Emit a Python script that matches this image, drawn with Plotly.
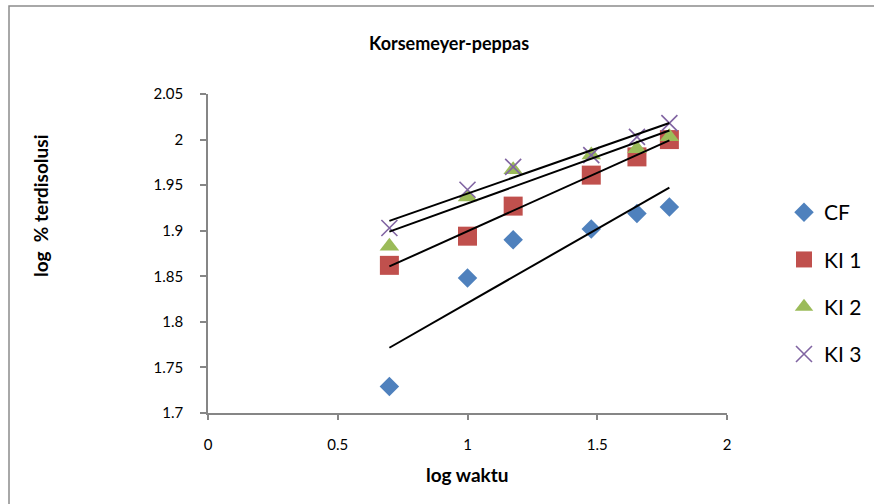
import numpy as np
import plotly.graph_objects as go

# ---- data ----
log_waktu = [0.699, 1.0, 1.176, 1.477, 1.653, 1.778]
cf = [1.729, 1.848, 1.890, 1.902, 1.919, 1.926]
ki1 = [1.862, 1.894, 1.927, 1.961, 1.981, 2.000]
ki2 = [1.883, 1.937, 1.967, 1.983, 1.990, 2.003]
ki3 = [1.903, 1.945, 1.970, 1.983, 2.003, 2.018]
series_names = ["CF", "KI 1", "KI 2", "KI 3"]
x_ticks = [0, 0.5, 1, 1.5, 2]
y_ticks = [1.7, 1.75, 1.8, 1.85, 1.9, 1.95, 2, 2.05]

FONT = "Lato, Open Sans, sans-serif"

styles = [
    dict(symbol="diamond", size=15, color="#4F81BD", line=dict(width=0)),
    dict(symbol="square", size=19, color="#C0504D", line=dict(width=0)),
    dict(symbol="triangle-up", size=17, color="#9BBB59", line=dict(width=0)),
    dict(symbol="x-thin", size=16, color="#8064A2", line=dict(width=1.6, color="#8064A2")),
]

fig = go.Figure()
all_series = [cf, ki1, ki2, ki3]
for name, ys, st in zip(series_names, all_series, styles):
    fig.add_trace(go.Scatter(
        x=log_waktu, y=ys, mode="markers", name=name,
        marker=st, legendgroup=name,
    ))

# linear trendlines (least-squares fit of each series)
for name, ys in zip(series_names, all_series):
    m, b = np.polyfit(log_waktu, ys, 1)
    xs = [min(log_waktu), max(log_waktu)]
    fig.add_trace(go.Scatter(
        x=xs, y=[m * v + b for v in xs], mode="lines",
        line=dict(color="black", width=2), showlegend=False,
        hoverinfo="skip",
    ))

W, H = 874, 504
L, R, T, B = 208, 147, 94, 91
PW, PH = W - L - R, H - T - B

def px(xp):
    return (xp - L) / PW

def py(yp):
    return (H - B - yp) / PH

fig.update_layout(
    width=W, height=H,
    margin=dict(l=L, r=R, t=T, b=B, pad=0, autoexpand=False),
    paper_bgcolor="white", plot_bgcolor="white",
    font=dict(family=FONT, color="black", size=15),
    showlegend=True,
    legend=dict(
        xref="container", yref="container",
        x=784 / W, y=1 - 192 / H, xanchor="left", yanchor="top",
        font=dict(size=21, family=FONT), traceorder="grouped",
        tracegroupgap=17, itemwidth=30, bgcolor="rgba(0,0,0,0)",
    ),
    xaxis=dict(
        range=[0, 2], tickvals=x_ticks, ticktext=[str(v) for v in x_ticks],
        showgrid=False, zeroline=False, showline=True, linecolor="#868686",
        linewidth=1.5, ticks="outside", ticklen=5, tickcolor="#868686",
        tickwidth=1.5, tickfont=dict(size=15), ticklabelstandoff=12,
    ),
    yaxis=dict(
        range=[1.7, 2.05], tickvals=y_ticks,
        ticktext=["1.7", "1.75", "1.8", "1.85", "1.9", "1.95", "2", "2.05"],
        showgrid=False, zeroline=False, showline=True, linecolor="#868686",
        linewidth=1.5, ticks="outside", ticklen=6, tickcolor="#868686",
        tickwidth=1.5, tickfont=dict(size=15), ticklabelstandoff=14,
    ),
    shapes=[dict(
        type="rect", xref="paper", yref="paper",
        x0=px(9), x1=px(890), y0=py(6), y1=py(520),
        line=dict(color="#8c8c8c", width=1.5), fillcolor="rgba(0,0,0,0)",
        layer="below",
    )],
    annotations=[
        dict(text="<b>Korsemeyer-peppas</b>", xref="paper", yref="paper",
             x=px(449), y=py(43), showarrow=False, font=dict(size=18),
             xanchor="center", yanchor="middle"),
        dict(text="<b>log waktu</b>", xref="paper", yref="paper",
             x=px(467), y=py(475), showarrow=False, font=dict(size=19),
             xanchor="center", yanchor="middle"),
        dict(text="<b>log  % terdisolusi</b>", xref="paper", yref="paper",
             x=px(40), y=py(206), showarrow=False, font=dict(size=19),
             textangle=-90, xanchor="center", yanchor="middle"),
    ],
)

fig.write_html("out.html")
